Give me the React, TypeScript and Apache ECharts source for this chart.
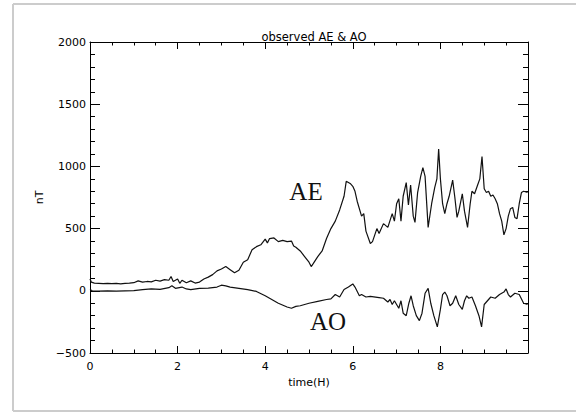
import React, { useEffect, useRef } from "react";
import * as echarts from "echarts";

const titleText = "observed AE & AO";
const xTickLabels = ["0", "2", "4", "6", "8"];

const aeTime = [
  0.0, 0.03, 0.1, 0.2, 0.3, 0.4, 0.5, 0.6, 0.7, 0.8, 0.9, 1.0, 1.1, 1.2, 1.3, 1.4, 1.5, 1.6, 1.7, 1.8,
  1.85, 1.9, 2.0, 2.05, 2.1, 2.2, 2.3, 2.4, 2.5, 2.6, 2.7, 2.8, 2.9, 3.0, 3.1, 3.2, 3.3, 3.4, 3.5, 3.6,
  3.7, 3.8, 3.9, 4.0, 4.05, 4.1, 4.2, 4.3, 4.4, 4.5, 4.6, 4.65, 4.7, 4.8, 4.9, 5.0, 5.05, 5.1, 5.2, 5.3,
  5.4, 5.5, 5.6, 5.7, 5.8, 5.85, 5.95, 6.0, 6.05, 6.1, 6.2, 6.25, 6.3, 6.4, 6.45, 6.55, 6.6, 6.7, 6.8, 6.9,
  6.95, 7.0, 7.05, 7.1, 7.15, 7.22, 7.27, 7.32, 7.38, 7.42, 7.48, 7.55, 7.6, 7.65, 7.72, 7.8, 7.87, 7.92, 7.96, 8.0,
  8.05, 8.1, 8.15, 8.2, 8.28, 8.33, 8.38, 8.42, 8.5, 8.55, 8.62, 8.68, 8.72, 8.78, 8.85, 8.9, 8.95, 9.0, 9.05, 9.1,
  9.15, 9.2, 9.25, 9.3, 9.35, 9.4, 9.45, 9.5, 9.55, 9.6, 9.65, 9.7, 9.75, 9.8, 9.85, 9.9, 9.99,
];
const aeValue = [
  95, 70, 62, 60, 58, 60, 57, 59, 56, 60, 62, 65, 80, 70, 75, 72, 85, 78, 90, 85,
  115, 75, 95, 60, 85, 65, 80, 62, 70, 95, 110, 130, 160, 175, 195, 170, 145, 165, 230, 250,
  330, 355, 370, 415, 385, 420, 425, 395, 405, 395, 400, 360, 350, 320, 275, 230, 195, 220, 275, 320,
  420, 500, 560, 650, 760, 880, 860, 840, 800, 720, 600, 620, 480, 380, 395, 500, 460, 540, 510, 620,
  560, 700, 740, 560, 760, 870, 690, 850, 600, 550, 790, 920, 990, 920, 510, 700, 830, 900, 1140, 900,
  700, 620, 700, 760, 890, 750, 590, 640, 780, 640, 510, 700, 800, 780, 850, 900, 1080, 820, 790, 800,
  760, 770, 740, 700, 620, 560, 450, 500, 600, 660, 670, 590, 580, 700, 790, 800, 790,
];

const aoTime = [
  0.0, 0.05, 0.2, 0.4, 0.6, 0.8, 1.0, 1.2, 1.4, 1.6, 1.8, 1.87, 1.95, 2.1, 2.2, 2.3, 2.5, 2.7, 2.9, 3.0,
  3.1, 3.2, 3.4, 3.6, 3.8, 4.0, 4.1, 4.3, 4.5, 4.6, 4.7, 4.8, 5.0, 5.2, 5.4, 5.5, 5.6, 5.7, 5.8, 5.9,
  6.0, 6.05, 6.15, 6.2, 6.3, 6.4, 6.6, 6.7, 6.8, 6.85, 6.9, 6.95, 7.0, 7.05, 7.1, 7.15, 7.22, 7.28, 7.33, 7.38,
  7.45, 7.52, 7.58, 7.65, 7.72, 7.78, 7.85, 7.93, 8.0, 8.05, 8.1, 8.15, 8.22, 8.28, 8.35, 8.42, 8.5, 8.55, 8.6, 8.65,
  8.72, 8.8, 8.88, 8.94, 9.0, 9.05, 9.15, 9.25, 9.35, 9.45, 9.5, 9.55, 9.6, 9.7, 9.8, 9.9, 9.99,
];
const aoValue = [
  10, 0, -2, 0, -2, 0, 2, 10, 15, 12, 25, 40, 20, 30, 15, 10, 20, 22, 30, 45,
  40, 30, 20, 10, -5, -40, -60, -100, -130, -140, -125, -120, -100, -85, -70, -65, -30, -50, 10, 30,
  55, 30, -40, -30, -50, -45, -55, -60, -90, -70, -110, -80, -110, -140, -80, -180, -200, -100, -40, -120,
  -200, -240, -180, -20, 20, -100, -200, -290, -150, -30, -10, -40, -120, -100, -40, -110, -150, -80, -40, -60,
  -50, -120, -200, -290, -110, -90, -50, -60, -30, -10, 15, -30, -50, -20, -30, -100, -110,
];

const pairs = (t: number[], v: number[]) => t.map((x, i) => [x, v[i]]);

const axisFont = "DejaVu Sans";

export default function App() {
  const ref = useRef<HTMLDivElement>(null);
  useEffect(() => {
    if (!ref.current) return;
    const chart = echarts.init(ref.current, null, { renderer: "svg" });
    const xCommon = {
      type: "value" as const,
      min: 0,
      max: 10,
      interval: 2,
      splitLine: { show: false },
      axisLine: { show: true, onZero: false, lineStyle: { color: "#000", width: 1 } },
      axisTick: { show: true, inside: true, length: 7, lineStyle: { color: "#000" } },
      minorTick: { show: true, splitNumber: 4, length: 3.5, lineStyle: { color: "#000" } },
    };
    const yCommon = {
      type: "value" as const,
      min: -500,
      max: 2000,
      interval: 500,
      splitLine: { show: false },
      axisLine: { show: true, onZero: false, lineStyle: { color: "#000", width: 1 } },
      axisTick: { show: true, inside: true, length: 10, lineStyle: { color: "#000" } },
      minorTick: { show: true, splitNumber: 5, length: 5, lineStyle: { color: "#000" } },
    };
    const borderStyle = { stroke: "#cccccc", lineWidth: 2 };
    chart.setOption({
      animation: false,
      backgroundColor: "#fff",
      title: {
        text: titleText,
        left: 309,
        top: 26,
        textAlign: "center",
        textStyle: { fontFamily: axisFont, fontSize: 11.5, fontWeight: "normal", color: "#000" },
      },
      grid: { left: 90, top: 42, right: 48, bottom: 59, containLabel: false },
      xAxis: [
        {
          ...xCommon,
          position: "bottom",
          name: "time(H)",
          nameLocation: "middle",
          nameGap: 22,
          nameTextStyle: { fontFamily: axisFont, fontSize: 11, color: "#000" },
          axisLabel: {
            show: true,
            showMaxLabel: false,
            margin: 8,
            fontFamily: axisFont,
            fontSize: 11,
            color: "#000",
            formatter: (v: number) => (xTickLabels.includes(String(v)) ? String(v) : ""),
          },
        },
        { ...xCommon, position: "top", axisLabel: { show: false } },
      ],
      yAxis: [
        {
          ...yCommon,
          position: "left",
          name: "nT",
          nameLocation: "middle",
          nameGap: 42,
          nameRotate: 90,
          nameTextStyle: { fontFamily: axisFont, fontSize: 11, color: "#000" },
          axisLabel: {
            show: true,
            margin: 4,
            fontFamily: axisFont,
            fontSize: 11,
            color: "#000",
            formatter: (v: number) => (v < 0 ? "\u2212" + Math.abs(v) : String(v)),
          },
        },
        { ...yCommon, position: "right", axisLabel: { show: false } },
      ],
      series: [
        {
          name: "AE",
          type: "line",
          xAxisIndex: 0,
          yAxisIndex: 0,
          data: pairs(aeTime, aeValue),
          showSymbol: false,
          lineStyle: { color: "#111", width: 1.2 },
        },
        {
          name: "AO",
          type: "line",
          xAxisIndex: 0,
          yAxisIndex: 0,
          data: pairs(aoTime, aoValue),
          showSymbol: false,
          lineStyle: { color: "#111", width: 1.2 },
        },
      ],
      graphic: [
        { type: "line", shape: { x1: 13, y1: 4, x2: 576, y2: 4 }, style: borderStyle, silent: true },
        { type: "line", shape: { x1: 13, y1: 4, x2: 13, y2: 411 }, style: borderStyle, silent: true },
        { type: "line", shape: { x1: 13, y1: 411, x2: 576, y2: 411 }, style: borderStyle, silent: true },
        {
          type: "text",
          x: 306,
          y: 191,
          style: {
            text: "AE",
            fontFamily: "Liberation Serif",
            fontSize: 25,
            fill: "#111",
            align: "center",
            verticalAlign: "middle",
          },
        },
        {
          type: "text",
          x: 328,
          y: 321,
          style: {
            text: "AO",
            fontFamily: "Liberation Serif",
            fontSize: 25,
            fill: "#111",
            align: "center",
            verticalAlign: "middle",
          },
        },
      ],
    });
    return () => chart.dispose();
  }, []);
  return (
    <div
      ref={ref}
      style={{ position: "fixed", left: 0, top: 0, width: 576, height: 412, background: "#fff" }}
    />
  );
}
